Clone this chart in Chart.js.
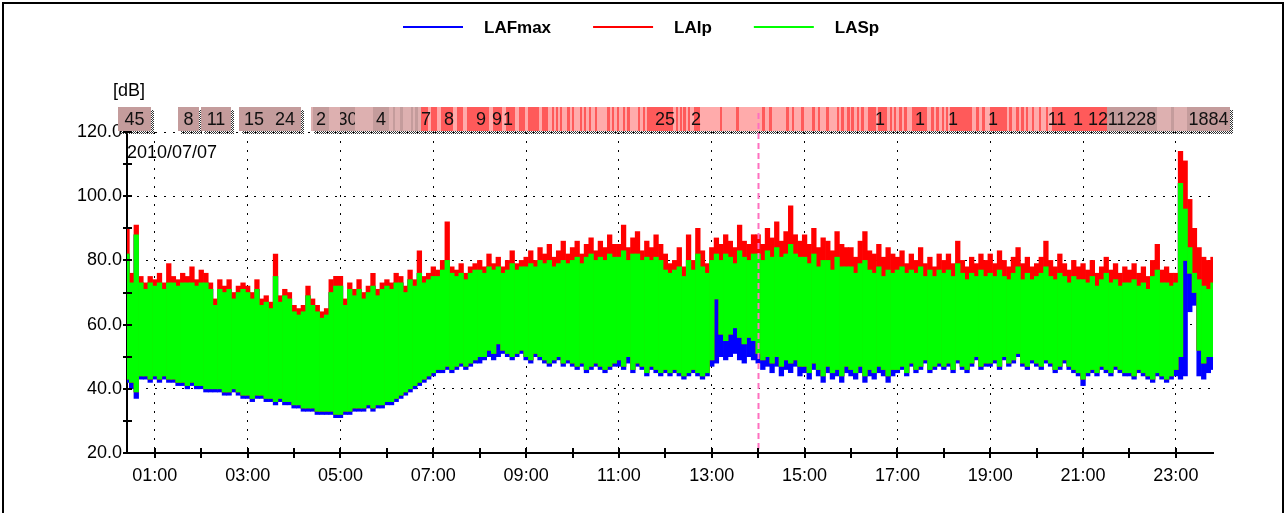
<!DOCTYPE html>
<html>
<head>
  <style>
    body {
      margin: 0;
      background: #fff;
      font-family: "Liberation Sans", Arial, sans-serif;
    }
    /* window frame round the chart */
    #frame {
      position: absolute;
      left: 2px;
      top: 2px;
      width: 1278px;
      height: 520px;
      border: 2px solid #000;
      border-bottom: none;
    }
    #chart {
      position: absolute;
      left: 0;
      top: 0;
    }
  </style>
  <script src="https://cdn.jsdelivr.net/npm/chart.js"></script>
</head>
<body>
  <div id="frame"></div>
  <canvas id="chart" width="1287" height="513"></canvas>

  <script>
    // one bin every 6 minutes, 00:24 .. 23:48 (hours)
    const firstHour = 0.4;
    const binHours = 0.1;

    // lower edge of LAFmax (blue)
    const lafmaxLow = [
      42, 40, 37, 43, 43, 42,
      43, 42, 43, 42, 42, 41, 41, 40, 41, 40,
      40, 39, 39, 39, 39, 38, 38, 39, 38, 37,
      37, 36, 37, 37, 36, 36, 35, 36, 35, 35,
      34, 34, 33, 33, 33, 32, 32, 32, 32, 31,
      31, 32, 32, 33, 33, 33, 34, 33, 34, 34,
      35, 35, 36, 37, 38, 39, 40, 41, 42, 43,
      44, 45, 45, 46, 45, 46, 47, 46, 47, 48,
      48, 49, 50, 49, 50, 51, 50, 49, 50, 51,
      49, 48, 50, 49, 48, 47, 48, 49, 47, 48,
      47, 46, 47, 45, 46, 47, 46, 45, 46, 47,
      47, 46, 48, 45, 47, 46, 44, 46, 45, 44,
      45, 44, 45, 44, 43, 44, 45, 44, 43, 44,
      47, 48, 50, 49, 50, 51, 49, 48, 50, 49,
      48, 46, 47, 45, 47, 44, 46, 45, 47, 44,
      45, 43, 46, 44, 42, 45, 43, 44, 42, 45,
      44, 43, 45, 42, 44, 43, 45, 44, 42, 44,
      45, 46, 44, 47, 45, 46, 48, 45, 46, 47,
      46, 47, 45, 48, 46, 45, 47, 49, 46, 47,
      47, 48, 46, 49, 47, 48, 50, 47, 46, 48,
      47, 46, 48, 47, 45, 46, 48, 46, 45, 44,
      41, 44, 45, 44, 46, 45, 44, 46, 45, 44,
      44, 43, 45, 44, 43, 42, 44, 43, 42, 43,
      44, 43, 44, 64, 66, 44, 43, 45, 46
    ];

    // lower and upper edge of LASp (green)
    const laspLow = [
      43, 42, 39, 44, 44, 43,
      44, 43, 44, 43, 43, 42, 42, 41, 42, 41,
      41, 40, 40, 40, 40, 39, 39, 40, 39, 38,
      38, 37, 38, 38, 37, 37, 36, 37, 36, 36,
      35, 35, 34, 34, 34, 33, 33, 33, 33, 32,
      32, 33, 33, 34, 34, 34, 35, 34, 35, 35,
      36, 36, 37, 38, 39, 40, 41, 42, 43, 44,
      45, 46, 46, 47, 46, 47, 48, 47, 48, 49,
      50, 50, 52, 51, 54, 52, 51, 50, 51, 52,
      50, 49, 51, 50, 49, 48, 49, 50, 48, 49,
      48, 47, 48, 46, 47, 48, 47, 46, 47, 48,
      49, 47, 50, 46, 48, 47, 45, 47, 46, 45,
      46, 45, 46, 45, 44, 45, 46, 45, 44, 45,
      49, 68, 57, 55, 57, 59, 56, 54, 56, 55,
      51, 49, 50, 48, 50, 47, 49, 48, 49, 47,
      47, 45, 48, 46, 44, 47, 45, 46, 44, 47,
      46, 45, 47, 44, 46, 45, 47, 46, 44, 46,
      46, 47, 45, 48, 46, 47, 49, 46, 47, 48,
      47, 48, 46, 49, 47, 46, 48, 50, 47, 48,
      48, 49, 47, 50, 48, 49, 51, 48, 47, 49,
      48, 47, 49, 48, 46, 47, 49, 47, 46, 45,
      43, 45, 46, 45, 47, 46, 45, 47, 46, 45,
      45, 44, 46, 45, 44, 43, 45, 44, 43, 44,
      46, 50, 80, 76, 70, 52, 48, 50, 50
    ];

    const laspHigh = [
      82, 73, 88, 73, 71, 73,
      72, 73, 71, 73, 73, 72, 73, 73, 73, 72,
      73, 73, 71, 66, 71, 70, 71, 68, 70, 71,
      70, 68, 71, 66, 67, 65, 75, 67, 69, 68,
      64, 63, 64, 69, 66, 64, 62, 63, 70, 72,
      72, 66, 71, 69, 71, 68, 70, 72, 69, 71,
      72, 71, 73, 73, 70, 74, 72, 76, 73, 74,
      75, 75, 77, 80, 76, 75, 76, 74, 76, 77,
      77, 76, 78, 77, 78, 76, 77, 79, 77, 78,
      78, 79, 78, 80, 79, 80, 78, 79, 80, 79,
      80, 81, 79, 81, 82, 80, 81, 80, 82, 81,
      81, 83, 80, 82, 82, 80, 81, 80, 81, 80,
      77, 76, 77, 78, 75, 80, 77, 82, 78, 76,
      80, 82, 80, 82, 81, 79, 83, 81, 80, 82,
      82, 80, 83, 81, 84, 81, 82, 85, 82, 81,
      81, 79, 82, 78, 80, 80, 77, 81, 78, 78,
      78, 76, 79, 80, 77, 76, 78, 75, 77, 76,
      77, 78, 76, 77, 76, 78, 75, 77, 75, 77,
      76, 77, 75, 79, 76, 74, 76, 75, 77, 75,
      76, 75, 77, 75, 74, 76, 78, 74, 76, 74,
      75, 76, 78, 75, 74, 76, 75, 73, 75, 74,
      74, 73, 75, 72, 74, 76, 73, 74, 72, 73,
      73, 74, 72, 73, 71, 75, 77, 73, 73, 72,
      73, 104, 96, 84, 76, 74, 72, 71, 73
    ];

    // upper edge of LAIp (red)
    const laipHigh = [
      90, 76, 91, 75, 73, 75,
      74, 76, 73, 79, 75, 74, 76, 75, 78, 74,
      77, 76, 73, 68, 74, 72, 74, 70, 72, 73,
      72, 70, 74, 68, 69, 67, 82, 69, 71, 70,
      66, 65, 66, 72, 68, 66, 64, 65, 74, 75,
      75, 68, 73, 71, 74, 70, 72, 76, 71, 73,
      74, 73, 76, 75, 72, 77, 74, 83, 75, 76,
      78, 77, 80, 92, 78, 77, 79, 76, 78, 79,
      80, 78, 82, 79, 81, 78, 80, 83, 79, 80,
      81, 83, 80, 84, 82, 85, 81, 83, 86, 82,
      84, 86, 82, 85, 87, 83, 86, 84, 88, 85,
      85, 91, 84, 87, 89, 83, 86, 84, 88, 85,
      82, 79, 80, 84, 78, 88, 80, 90, 83, 79,
      84, 87, 85, 88, 86, 84, 91, 86, 85, 88,
      88, 85, 90, 87, 92, 86, 89, 97, 88, 86,
      88, 85, 90, 84, 87, 86, 83, 89, 85, 84,
      84, 81, 86, 89, 83, 82, 85, 81, 84, 82,
      81, 83, 79, 82, 80, 84, 79, 81, 78, 82,
      80, 82, 79, 86, 80, 78, 81, 79, 82, 80,
      82, 79, 83, 80, 78, 81, 84, 79, 81, 78,
      79, 81, 86, 80, 78, 82, 79, 77, 80, 78,
      79, 77, 80, 76, 78, 81, 77, 79, 76, 78,
      77, 79, 76, 78, 75, 80, 85, 77, 78, 76,
      76, 114, 111, 99, 90, 84, 81, 80, 81
    ];

    const hours = lafmaxLow.map((_, i) => +(firstHour + i * binHours).toFixed(1));

    const seriesNames = ["LAFmax", "LAIp", "LASp"];
    const seriesColors = ["#0000ff", "#ff0000", "#00ff00"];
    const cursorHour = 14.0;
    const dateText = "2010/07/07";
    const unitText = "[dB]";

    // event band above the plot (hours)
    const baseFrom = [0.20, 1.50, 1.99, 2.81, 3.46, 4.36, 6.73, 21.52];
    const baseTo   = [0.92, 1.95, 2.64, 3.46, 4.14, 6.73, 21.52, 24.17];
    const baseKind = ["g", "g", "g", "g", "g", "l", "p", "l"];
    const baseText = ["45", "8", "11", "15", "24", "", "", ""];

    const markFrom = [4.40, 5.00, 5.71, 6.13, 6.28, 6.52, 6.60, 21.52, 23.24, 22.90];
    const markTo   = [4.75, 5.32, 6.05, 6.18, 6.34, 6.57, 6.66, 22.59, 24.17, 22.96];
    const markKind = ["g", "g", "g", "g", "g", "g", "g", "g", "g", "g"];
    const markText = ["2", "30", "4", "", "", "", "", "11228", "1884", ""];

    const redMarks = [
      [6.73, 6.88], [6.94, 7.07], [7.16, 7.42], [7.50, 7.65], [7.72, 8.19],
      [8.28, 8.49], [8.56, 8.77], [8.84, 8.97], [9.05, 9.27], [9.35, 9.48],
      [9.55, 9.60], [9.64, 9.69], [9.72, 9.77], [9.89, 9.94], [9.98, 10.03],
      [10.15, 10.20], [10.24, 10.29], [10.35, 10.40], [10.48, 10.53], [10.75, 10.80],
      [10.84, 10.89], [10.95, 11.00], [11.08, 11.13], [11.18, 11.23], [11.40, 11.45],
      [11.51, 11.56], [11.61, 12.17], [12.22, 12.27], [12.31, 12.36], [12.39, 12.44],
      [12.48, 12.53], [12.61, 12.75], [13.17, 13.22], [13.53, 13.58], [14.09, 14.14],
      [14.24, 14.29], [14.61, 14.66], [14.72, 14.77], [14.93, 14.98], [15.17, 15.22],
      [15.28, 15.33], [15.47, 15.52], [15.69, 15.74], [15.79, 15.84], [15.92, 15.97],
      [16.01, 16.06], [16.13, 16.18], [16.22, 16.27], [16.37, 16.53], [16.59, 16.78],
      [16.83, 16.88], [16.93, 16.98], [17.04, 17.09], [17.15, 17.20], [17.32, 17.64],
      [17.73, 17.78], [17.84, 17.89], [17.95, 18.00], [18.05, 18.10], [18.14, 18.61],
      [18.70, 18.75], [18.83, 18.88], [19.00, 19.37], [19.41, 19.46], [19.56, 19.61],
      [19.67, 19.72], [19.77, 19.82], [19.90, 19.95], [20.05, 20.10], [20.20, 20.25],
      [20.33, 21.52]
    ];
    const redLabelAt   = [6.85, 7.33, 8.02, 8.38, 8.60, 12.00, 12.66, 16.63, 17.49, 18.20, 19.06, 20.44, 20.89, 21.32];
    const redLabelText = ["7", "8", "9", "9", "1", "25", "2", "1", "1", "1", "1", "11", "1", "12"];

    const bandColors = { g: "#c49c9c", l: "#ddb0b0", p: "#ffabab", r: "#ff5a5a" };
    const FONT = '"Liberation Sans", Arial, sans-serif';

    // checker pattern used for the drop shadow of the band boxes
    function shadowPattern(ctx) {
      const c = document.createElement("canvas");
      c.width = 2; c.height = 2;
      const g = c.getContext("2d");
      g.fillStyle = "#333";
      g.fillRect(0, 0, 1, 1);
      g.fillRect(1, 1, 1, 1);
      return ctx.createPattern(c, "repeat");
    }

    const bandPlugin = {
      id: "band",
      afterDatasetsDraw(chart) {
        const { ctx } = chart;
        const x = chart.scales.x;
        const top = 107, h = 24;
        const px = v => Math.round(x.getPixelForValue(v));
        ctx.save();

        // shadows
        ctx.fillStyle = shadowPattern(ctx);
        baseFrom.forEach((f, i) => {
          const a = px(f), b = px(baseTo[i]);
          ctx.fillRect(a + 3, top + 3, b - a, h);
        });

        ctx.font = "18px " + FONT;
        ctx.textAlign = "center";
        ctx.textBaseline = "middle";

        function box(f, t, kind, text) {
          const a = px(f), b = px(t);
          ctx.fillStyle = bandColors[kind];
          ctx.fillRect(a, top, Math.max(b - a, 1), h);
          if (text) {
            ctx.save();
            ctx.beginPath();
            ctx.rect(a, top, b - a, h);
            ctx.clip();
            ctx.fillStyle = "#111";
            ctx.fillText(text, (a + b) / 2, top + h / 2 + 1);
            ctx.restore();
          }
        }

        baseFrom.forEach((f, i) => box(f, baseTo[i], baseKind[i], baseText[i]));
        markFrom.forEach((f, i) => box(f, markTo[i], markKind[i], markText[i]));
        redMarks.forEach(m => box(m[0], m[1], "r", ""));

        ctx.fillStyle = "#111";
        redLabelAt.forEach((v, i) => ctx.fillText(redLabelText[i], px(v), top + h / 2 + 1));

        // date cursor
        const cx = px(cursorHour) + 0.5;
        ctx.strokeStyle = "#ff70c0";
        ctx.lineWidth = 2;
        ctx.setLineDash([6, 4]);
        ctx.beginPath();
        ctx.moveTo(cx, 113);
        ctx.lineTo(cx, chart.chartArea.bottom);
        ctx.stroke();
        ctx.restore();
      }
    };

    const decorPlugin = {
      id: "decor",
      afterDraw(chart) {
        const { ctx, chartArea: a } = chart;
        const { x, y } = chart.scales;
        ctx.save();

        // ticks crossing both axes
        ctx.strokeStyle = "#000";
        ctx.lineWidth = 2;
        ctx.beginPath();
        y.ticks.forEach(t => {
          const py = Math.round(y.getPixelForValue(t.value));
          ctx.moveTo(a.left - 4, py);
          ctx.lineTo(a.left + 5, py);
        });
        x.ticks.forEach(t => {
          const p = Math.round(x.getPixelForValue(t.value));
          ctx.moveTo(p, a.bottom - 5);
          ctx.lineTo(p, a.bottom + 5);
        });
        ctx.stroke();

        // texts
        ctx.fillStyle = "#000";
        ctx.font = "18px " + FONT;
        ctx.textAlign = "left";
        ctx.textBaseline = "middle";
        ctx.fillText(unitText, 113, 91);
        ctx.fillText(dateText, a.left, a.top + 21);

        // legend
        ctx.font = "bold 17px " + FONT;
        const lineW = 60, gapText = 21, gapItem = 42;
        const widths = seriesNames.map(s => ctx.measureText(s).width);
        const total = widths.reduce((s, w) => s + lineW + gapText + w, 0) + gapItem * (seriesNames.length - 1);
        let lx = Math.round(chart.width / 2 - total / 2) - 2;
        seriesNames.forEach((s, i) => {
          ctx.strokeStyle = seriesColors[i];
          ctx.lineWidth = 2;
          ctx.beginPath();
          ctx.moveTo(lx, 27);
          ctx.lineTo(lx + lineW, 27);
          ctx.stroke();
          ctx.fillStyle = "#000";
          ctx.fillText(s, lx + lineW + gapText, 28);
          lx += lineW + gapText + widths[i] + gapItem;
        });
        ctx.restore();
      }
    };

    const barOpts = {
      barPercentage: 1,
      categoryPercentage: 1,
      grouped: false,
      borderWidth: 0
    };

    const ctx = document.getElementById("chart").getContext("2d");
    const chart = new Chart(ctx, {
      type: "bar",
      data: {
        datasets: [
          Object.assign({
            label: seriesNames[0],
            data: hours.map((t, i) => ({ x: t, y: [lafmaxLow[i], laspHigh[i]] })),
            backgroundColor: seriesColors[0],
            order: 3
          }, barOpts),
          Object.assign({
            label: seriesNames[1],
            data: hours.map((t, i) => ({ x: t, y: [laspLow[i], laipHigh[i]] })),
            backgroundColor: seriesColors[1],
            order: 2
          }, barOpts),
          Object.assign({
            label: seriesNames[2],
            data: hours.map((t, i) => ({ x: t, y: [laspLow[i], laspHigh[i]] })),
            backgroundColor: seriesColors[2],
            order: 1
          }, barOpts)
        ]
      },
      options: {
        responsive: false,
        animation: false,
        events: [],
        layout: { padding: { left: 0, top: 132, right: 74, bottom: 0 } },
        plugins: {
          legend: { display: false },
          tooltip: { enabled: false }
        },
        scales: {
          x: {
            type: "linear",
            min: 0.4,
            max: 23.8,
            offset: false,
            afterFit: s => { s.height = 60; },
            ticks: {
              stepSize: 1,
              includeBounds: false,
              autoSkip: false,
              maxRotation: 0,
              padding: 12,
              color: "#000",
              font: { family: FONT, size: 18 },
              callback: v => (v % 2 === 1 ? String(v).padStart(2, "0") + ":00" : "")
            },
            grid: {
              offset: false,
              drawTicks: false,
              lineWidth: 1,
              color: c => (c.tick && c.tick.value % 2 === 1 ? "#000" : "rgba(0,0,0,0)")
            },
            border: { display: true, color: "#000", width: 2, dash: [2, 7] }
          },
          y: {
            min: 20,
            max: 120,
            afterFit: s => { s.width = 127; },
            ticks: {
              stepSize: 10,
              padding: 5,
              color: "#000",
              font: { family: FONT, size: 18 },
              callback: v => (v % 20 === 0 ? v.toFixed(1) : "")
            },
            grid: {
              drawTicks: false,
              lineWidth: 1,
              color: c => (c.tick && c.tick.value % 20 === 0 && c.tick.value > 20 ? "#000" : "rgba(0,0,0,0)")
            },
            border: { display: true, color: "#000", width: 2, dash: [2, 7] }
          }
        }
      },
      plugins: [bandPlugin, decorPlugin]
    });
  </script>
</body>
</html>
